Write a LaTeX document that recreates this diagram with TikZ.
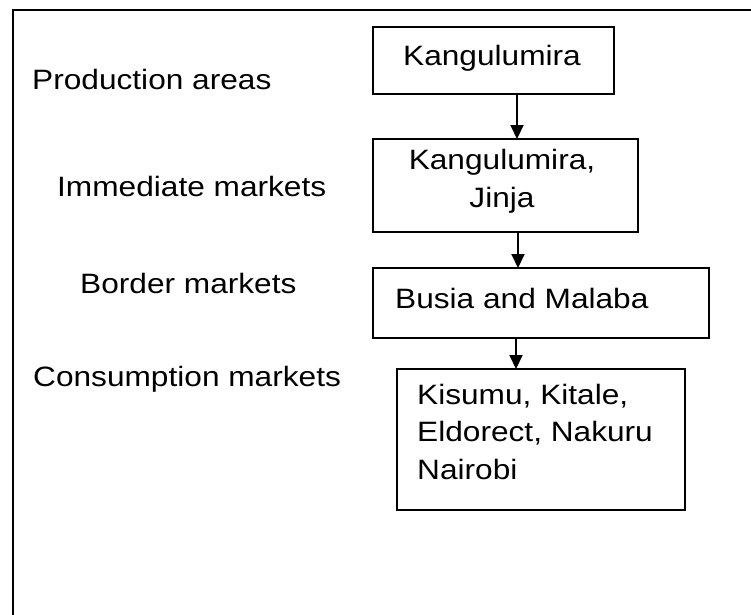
\documentclass[tikz,border=0pt]{standalone}
\usepackage{fontspec}
\setmainfont{Liberation Sans}[FakeStretch=1.13]
\usetikzlibrary{arrows.meta}
\begin{document}
\begin{tikzpicture}[x=1pt,y=-1pt,
  boxstyle/.style={draw, line width=2.2pt, inner sep=0pt, anchor=north west},
  txt/.style={inner sep=0pt, font=\fontsize{28}{37.4}\selectfont},
  arr/.style={line width=2pt, -{Triangle[width=13pt,length=14pt]}, shorten >=-1pt}]
\useasboundingbox (0,0) rectangle (751,614);
% outer frame (left and top visible)
\draw[line width=2.4pt] (13,615) -- (13,10) -- (752,10);
% boxes
\node[boxstyle, minimum width=241pt, minimum height=67pt] (b1) at (372,26) {};
\node[boxstyle, minimum width=265pt, minimum height=93pt] (b2) at (372,138) {};
\node[boxstyle, minimum width=336pt, minimum height=70pt] (b3) at (372,267) {};
\node[boxstyle, minimum width=288pt, minimum height=141pt] (b4) at (396,368) {};
% box texts
\node[txt, anchor=base] (t1) at (492,65.5) {Kangulumira};
\node[txt, anchor=base] (t2a) at (502,169) {Kangulumira,};
\node[txt, anchor=base] (t2b) at (502,207) {Jinja};
\node[txt, anchor=base west] (t3) at (395,308) {Busia and Malaba};
\node[txt, anchor=base west] (t4a) at (417,404) {Kisumu, Kitale,};
\node[txt, anchor=base west] (t4b) at (417,441.5) {Eldorect, Nakuru};
\node[txt, anchor=base west] (t4c) at (417,479) {Nairobi};
% level labels
\node[txt, anchor=base west] (l1) at (32,89) {Production areas};
\node[txt, anchor=base west] (l2) at (57,196) {Immediate markets};
\node[txt, anchor=base west] (l3) at (80,293) {Border markets};
\node[txt, anchor=base west] (l4) at (33,386) {Consumption markets};
% arrows
\coordinate (ax1) at (517,0);
\coordinate (ax2) at (518,0);
\coordinate (ax3) at (516,0);
\draw[arr] (b1.south -| ax1) -- (b2.north -| ax1);
\draw[arr] (b2.south -| ax2) -- (b3.north -| ax2);
\draw[arr] (b3.south -| ax3) -- (b4.north -| ax3);
\end{tikzpicture}
\end{document}
